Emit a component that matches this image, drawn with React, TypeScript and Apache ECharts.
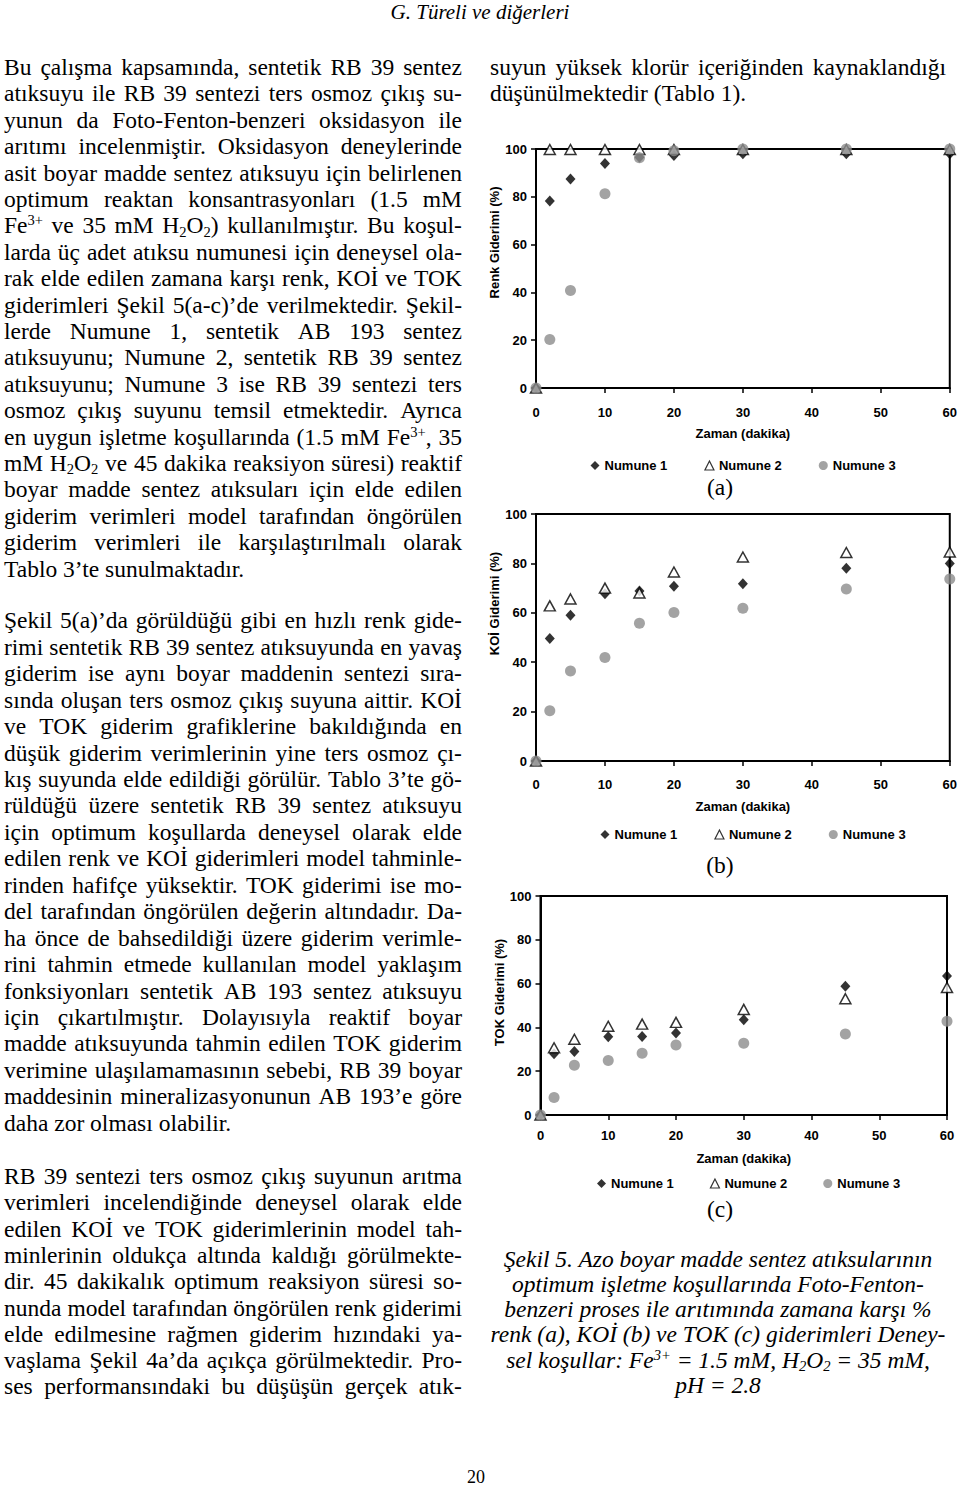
import React, { useEffect, useRef } from 'react';
import * as echarts from 'echarts';

// ---------- DATA ----------
const TIME = [0, 2, 5, 10, 15, 20, 30, 45, 60];
const SERIES_NAMES = ['Numune 1', 'Numune 2', 'Numune 3'];

const RENK_N1 = [0, 78.2, 87.4, 93.9, 96.6, 97.3, 98, 98, 98];
const RENK_N2 = [0, 99.8, 99.8, 99.8, 99.8, 99.8, 99.8, 99.8, 99.8];
const RENK_N3 = [0, 20.3, 40.8, 81.3, 96.3, 99.3, 100, 100, 100];

const KOI_N1 = [0, 49.6, 59, 67.7, 68.8, 70.7, 71.8, 78, 80];
const KOI_N2 = [0, 62.8, 65.6, 70, 68, 76.5, 82.6, 84.4, 84.6];
const KOI_N3 = [0, 20.3, 36.4, 41.9, 55.8, 60.1, 61.8, 69.6, 73.7];

const TOK_N1 = [0, 28, 29, 35.7, 35.8, 37.4, 43.5, 58.8, 63.5];
const TOK_N2 = [0, 30.7, 34.6, 40.5, 41.5, 42.3, 48.2, 53.1, 58.2];
const TOK_N3 = [0, 8, 22.7, 24.9, 28.2, 32, 32.8, 37, 42.8];

const Y_NAMES = ['Renk Giderimi (%)', 'KOİ Giderimi (%)', 'TOK Giderimi (%)'];
const X_NAME = 'Zaman (dakika)';
const PANEL_LABELS = ['(a)', '(b)', '(c)'];

const PARA1 = [
  'Bu çalışma kapsamında, sentetik RB 39 sentez',
  'atıksuyu ile RB 39 sentezi ters osmoz çıkış su-',
  'yunun da Foto-Fenton-benzeri oksidasyon ile',
  'arıtımı incelenmiştir. Oksidasyon deneylerinde',
  'asit boyar madde sentez atıksuyu için belirlenen',
  'optimum reaktan konsantrasyonları (1.5 mM',
  'Fe<sup>3+</sup> ve 35 mM H<sub>2</sub>O<sub>2</sub>) kullanılmıştır. Bu koşul-',
  'larda üç adet atıksu numunesi için deneysel ola-',
  'rak elde edilen zamana karşı renk, KOİ ve TOK',
  'giderimleri Şekil 5(a-c)’de verilmektedir. Şekil-',
  'lerde Numune 1, sentetik AB 193 sentez',
  'atıksuyunu; Numune 2, sentetik RB 39 sentez',
  'atıksuyunu; Numune 3 ise RB 39 sentezi ters',
  'osmoz çıkış suyunu temsil etmektedir. Ayrıca',
  'en uygun işletme koşullarında (1.5 mM Fe<sup>3+</sup>, 35',
  'mM H<sub>2</sub>O<sub>2</sub> ve 45 dakika reaksiyon süresi) reaktif',
  'boyar madde sentez atıksuları için elde edilen',
  'giderim verimleri model tarafından öngörülen',
  'giderim verimleri ile karşılaştırılmalı olarak',
  'Tablo 3’te sunulmaktadır.',
];
const PARA2 = [
  'Şekil 5(a)’da görüldüğü gibi en hızlı renk gide-',
  'rimi sentetik RB 39 sentez atıksuyunda en yavaş',
  'giderim ise aynı boyar maddenin sentezi sıra-',
  'sında oluşan ters osmoz çıkış suyuna aittir. KOİ',
  've TOK giderim grafiklerine bakıldığında en',
  'düşük giderim verimlerinin yine ters osmoz çı-',
  'kış suyunda elde edildiği görülür. Tablo 3’te gö-',
  'rüldüğü üzere sentetik RB 39 sentez atıksuyu',
  'için optimum koşullarda deneysel olarak elde',
  'edilen renk ve KOİ giderimleri model tahminle-',
  'rinden hafifçe yüksektir. TOK giderimi ise mo-',
  'del tarafından öngörülen değerin altındadır. Da-',
  'ha önce de bahsedildiği üzere giderim verimle-',
  'rini tahmin etmede kullanılan model yaklaşım',
  'fonksiyonları sentetik AB 193 sentez atıksuyu',
  'için çıkartılmıştır. Dolayısıyla reaktif boyar',
  'madde atıksuyunda tahmin edilen TOK giderim',
  'verimine ulaşılamamasının sebebi, RB 39 boyar',
  'maddesinin mineralizasyonunun AB 193’e göre',
  'daha zor olması olabilir.',
];
const PARA3 = [
  'RB 39 sentezi ters osmoz çıkış suyunun arıtma',
  'verimleri incelendiğinde deneysel olarak elde',
  'edilen KOİ ve TOK giderimlerinin model tah-',
  'minlerinin oldukça altında kaldığı görülmekte-',
  'dir. 45 dakikalık optimum reaksiyon süresi so-',
  'nunda model tarafından öngörülen renk giderimi',
  'elde edilmesine rağmen giderim hızındaki ya-',
  'vaşlama Şekil 4a’da açıkça görülmektedir. Pro-',
  'ses performansındaki bu düşüşün gerçek atık-',
];
const RIGHT_TOP = [
  'suyun yüksek klorür içeriğinden kaynaklandığı',
  'düşünülmektedir (Tablo 1).',
];
const CAPTION = [
  'Şekil 5. Azo boyar madde sentez atıksularının',
  'optimum işletme koşullarında Foto-Fenton-',
  'benzeri proses ile arıtımında zamana karşı %',
  'renk (a), KOİ (b) ve TOK (c) giderimleri Deney-',
  'sel koşullar: Fe<sup>3+</sup> = 1.5 mM, H<sub>2</sub>O<sub>2</sub> = 35 mM,',
  'pH = 2.8',
];
const HEADER = 'G. Türeli ve diğerleri';
const PAGE_NO = '20';

// ---------- LAYOUT ----------
const GRIDS = [
  { left: 536, top: 149, width: 414, height: 239 },
  { left: 536, top: 514, width: 416, height: 247 },
  { left: 540.5, top: 896, width: 406.5, height: 219 },
];
const LEGENDS = [
  { left: 590.5, top: 459, itemGap: 37 },
  { left: 600.5, top: 828, itemGap: 37 },
  { left: 597, top: 1177, itemGap: 36 },
];
const Y_NAME_GAP = [30, 26, 32];
const Y_NAME_SHIFT = [52, 68, 26];
const X_NAME_GAP = [39, 39, 37];
const X_LABEL_MARGIN = [18, 17, 14];

const SANS = '"Liberation Sans", Arial, sans-serif';
const SERIF = '"Liberation Serif", "Times New Roman", serif';
const GRAY = '#8c8c8c';

function buildOption() {
  const data = [
    [RENK_N1, RENK_N2, RENK_N3],
    [KOI_N1, KOI_N2, KOI_N3],
    [TOK_N1, TOK_N2, TOK_N3],
  ];
  const labelStyle = { color: '#000', fontWeight: 'bold' as const, fontSize: 13, fontFamily: SANS };
  const grid: any[] = [];
  const xAxis: any[] = [];
  const yAxis: any[] = [];
  const legend: any[] = [];
  const series: any[] = [];
  for (let i = 0; i < 3; i++) {
    grid.push({ ...GRIDS[i], show: true, borderColor: '#000', borderWidth: 2, backgroundColor: 'transparent', containLabel: false });
    xAxis.push({
      gridIndex: i, type: 'value', min: 0, max: 60, interval: 10,
      axisLine: { show: true, onZero: false, lineStyle: { color: '#000', width: 2 } },
      axisTick: { show: true, length: 5, lineStyle: { color: '#000', width: 1.5 } },
      axisLabel: { ...labelStyle, margin: X_LABEL_MARGIN[i] },
      splitLine: { show: false },
      name: X_NAME, nameLocation: 'middle', nameGap: X_NAME_GAP[i],
      nameTextStyle: { ...labelStyle },
    });
    yAxis.push({
      gridIndex: i, type: 'value', min: 0, max: 100, interval: 20,
      axisLine: { show: true, onZero: false, lineStyle: { color: '#000', width: 2 } },
      axisTick: { show: true, length: 5, lineStyle: { color: '#000', width: 1.5 } },
      axisLabel: { ...labelStyle, margin: 9 },
      splitLine: { show: false },
      name: Y_NAMES[i], nameLocation: 'middle', nameGap: Y_NAME_GAP[i],
      nameTextStyle: { ...labelStyle, padding: [0, 0, 0, Y_NAME_SHIFT[i]] },
    });
    legend.push({
      data: SERIES_NAMES, left: LEGENDS[i].left, top: LEGENDS[i].top, itemGap: LEGENDS[i].itemGap,
      orient: 'horizontal', padding: 0, itemWidth: 9, itemHeight: 9, itemStyle: { borderWidth: 1.2 },
      textStyle: { ...labelStyle, padding: [0, 0, 0, 0] }, selectedMode: false,
    });
    const mk = (arr: number[]) => TIME.map((t, k) => [t, arr[k]]);
    series.push({
      type: 'scatter', name: SERIES_NAMES[0], xAxisIndex: i, yAxisIndex: i, data: mk(data[i][0]),
      symbol: 'diamond', symbolSize: [10, 11], itemStyle: { color: '#000' }, clip: false,
    });
    series.push({
      type: 'scatter', name: SERIES_NAMES[1], xAxisIndex: i, yAxisIndex: i, data: mk(data[i][1]),
      symbol: 'triangle', symbolSize: [11, 10], itemStyle: { color: '#fff', borderColor: '#000', borderWidth: 1.5 }, clip: false,
    });
    series.push({
      type: 'scatter', name: SERIES_NAMES[2], xAxisIndex: i, yAxisIndex: i, data: mk(data[i][2]),
      symbol: 'circle', symbolSize: 11, itemStyle: { color: GRAY }, clip: false,
    });
  }
  return { animation: false, backgroundColor: 'transparent', grid, xAxis, yAxis, legend, series, tooltip: { show: false } };
}

// ---------- TEXT LINES ----------
const LH = 26;
function Line(props: { html: string; x: number; w: number; baseline: number; size: number; justify?: boolean; center?: boolean; italic?: boolean }) {
  const { html, x, w, baseline, size, justify, center, italic } = props;
  const halfLeading = (LH - 1.107 * size) / 2;
  const top = baseline - 0.891 * size - halfLeading;
  const style: React.CSSProperties = {
    position: 'absolute', left: x, top, width: w, height: LH, display: 'flex', alignItems: 'baseline',
    justifyContent: justify ? 'space-between' : center ? 'center' : 'flex-start',
    fontFamily: SERIF, fontSize: size, lineHeight: LH + 'px', fontStyle: italic ? 'italic' : 'normal',
    whiteSpace: 'pre', color: '#000',
  };
  if (justify) {
    return (
      <div style={style}>
        {html.split(' ').map((wd, i) => <span key={i} dangerouslySetInnerHTML={{ __html: wd }} />)}
      </div>
    );
  }
  return <div style={style}><span dangerouslySetInnerHTML={{ __html: html }} /></div>;
}

const FS = 23.5;
const LEFT_X = 4;
const LEFT_W = 458;

export default function App() {
  const ref = useRef<HTMLDivElement>(null);
  useEffect(() => {
    const chart = echarts.init(ref.current!, null, { renderer: 'svg' });
    chart.setOption(buildOption() as any);
    return () => chart.dispose();
  }, []);

  const lines: React.ReactNode[] = [];
  PARA1.forEach((t, i) => lines.push(<Line key={'p1' + i} html={t} x={LEFT_X} w={LEFT_W} baseline={75 + i * 26.4} size={FS} justify={i < PARA1.length - 1} />));
  PARA2.forEach((t, i) => lines.push(<Line key={'p2' + i} html={t} x={LEFT_X} w={LEFT_W} baseline={628.3 + i * 26.44} size={FS} justify={i < PARA2.length - 1} />));
  PARA3.forEach((t, i) => lines.push(<Line key={'p3' + i} html={t} x={LEFT_X} w={LEFT_W} baseline={1184 + i * 26.3} size={FS} justify={true} />));
  RIGHT_TOP.forEach((t, i) => lines.push(<Line key={'r' + i} html={t} x={490} w={456} baseline={75 + i * 26.4} size={FS} justify={i === 0} />));
  CAPTION.forEach((t, i) => lines.push(<Line key={'c' + i} html={t} x={488} w={460} baseline={1266.7 + i * 25.2} size={FS} center italic />));
  const labelBaselines = [495, 873, 1216.7];
  PANEL_LABELS.forEach((t, i) => lines.push(<Line key={'l' + i} html={t} x={670} w={100} baseline={labelBaselines[i]} size={FS} center />));
  lines.push(<Line key="hdr" html={HEADER} x={0} w={960} baseline={19} size={21} center italic />);
  lines.push(<Line key="pg" html={PAGE_NO} x={426} w={100} baseline={1483} size={18} center />);

  return (
    <div className="pg" style={{ position: 'absolute', left: 0, top: 0, width: 960, height: 1493, background: '#fff', overflow: 'hidden' }}>
      <style>{`.pg sup{font-size:0.62em;line-height:0;position:relative;top:-0.55em;vertical-align:baseline}.pg sub{font-size:0.62em;line-height:0;position:relative;top:0.22em;vertical-align:baseline}`}</style>
      <div ref={ref} style={{ position: 'absolute', left: 0, top: 0, width: 960, height: 1493 }} />
      <div style={{ position: 'absolute', left: 0, top: 0, width: 960, height: 1493, pointerEvents: 'none' }}>{lines}</div>
    </div>
  );
}
